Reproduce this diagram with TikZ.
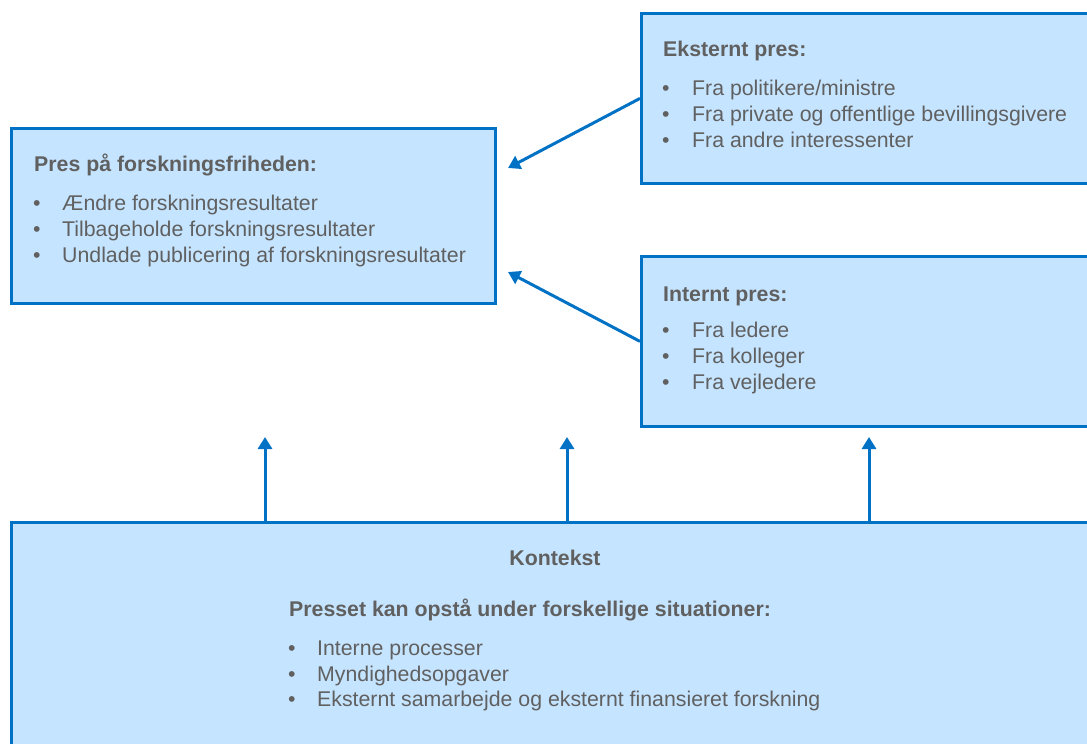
\documentclass[tikz,border=0pt]{standalone}
\usepackage{fontspec}
\setmainfont{Liberation Sans}
\usetikzlibrary{arrows.meta}
\definecolor{bfill}{RGB}{197,228,255}
\definecolor{bline}{RGB}{0,114,198}
\definecolor{tgrey}{RGB}{96,96,96}
\begin{document}
\begin{tikzpicture}[x=1pt,y=-1pt,
  box/.style={draw=bline,fill=bfill,line width=2.8pt,rectangle,inner sep=0pt,anchor=north west},
  txt/.style={anchor=base west,inner sep=0pt,text=tgrey,font=\fontsize{21.3}{25}\selectfont},
  ttl/.style={txt,font=\fontsize{21.3}{25}\selectfont\bfseries},
  bul/.style={txt},
  arr/.style={draw=bline,line width=3pt,-{Triangle[length=12pt,width=14pt]}}]
\useasboundingbox (0,0) rectangle (1087,744);
\clip (0,0) rectangle (1087,744);
% boxes
\node[box,minimum width=484pt,minimum height=175pt] (b1) at (10,127) {};
\node[box,minimum width=470pt,minimum height=170pt] (b2) at (640,12) {};
\node[box,minimum width=470pt,minimum height=170pt] (b3) at (640,255) {};
\node[box,minimum width=1100pt,minimum height=240pt] (b4) at (10,521) {};
% box 1 text
\node[ttl] (t1) at (34,171) {Pres på forskningsfriheden:};
\node[bul] (b1a) at (33,210) {•}; \node[txt] (l1a) at (62,210) {Ændre forskningsresultater};
\node[bul] (b1b) at (33,236) {•}; \node[txt] (l1b) at (62,236) {Tilbageholde forskningsresultater};
\node[bul] (b1c) at (33,262) {•}; \node[txt] (l1c) at (62,262) {Undlade publicering af forskningsresultater};
% box 2 text
\node[ttl] (t2) at (663,56) {Eksternt pres:};
\node[bul] (b2a) at (662,95) {•}; \node[txt] (l2a) at (692,95) {Fra politikere/ministre};
\node[bul] (b2b) at (662,121) {•}; \node[txt] (l2b) at (692,121) {Fra private og offentlige bevillingsgivere};
\node[bul] (b2c) at (662,147) {•}; \node[txt] (l2c) at (692,147) {Fra andre interessenter};
% box 3 text
\node[ttl] (t3) at (663,301) {Internt pres:};
\node[bul] (b3a) at (662,337) {•}; \node[txt] (l3a) at (692,337) {Fra ledere};
\node[bul] (b3b) at (662,363) {•}; \node[txt] (l3b) at (692,363) {Fra kolleger};
\node[bul] (b3c) at (662,389) {•}; \node[txt] (l3c) at (692,389) {Fra vejledere};
% box 4 text
\node[ttl,anchor=base] (t4) at (555,565) {Kontekst};
\node[ttl] (t5) at (289,616) {Presset kan opstå under forskellige situationer:};
\node[bul] (b4a) at (288,655) {•}; \node[txt] (l4a) at (317,655) {Interne processer};
\node[bul] (b4b) at (288,681) {•}; \node[txt] (l4b) at (317,681) {Myndighedsopgaver};
\node[bul] (b4c) at (288,706) {•}; \node[txt] (l4c) at (317,706) {Eksternt samarbejde og eksternt finansieret forskning};
% arrows
\coordinate (e2) at (508,168);
\coordinate (e3) at (508,272);
\draw[arr] (b2.west) -- (e2);
\draw[arr] (b3.west) -- (e3);
\coordinate (s1) at (265,521); \coordinate (e4) at (265,437);
\coordinate (s2) at (567,521); \coordinate (e5) at (567,437);
\coordinate (s3) at (869,521); \coordinate (e6) at (869,437);
\draw[arr] (b4.north -| s1) -- (e4);
\draw[arr] (b4.north -| s2) -- (e5);
\draw[arr] (b4.north -| s3) -- (e6);
\end{tikzpicture}
\end{document}
